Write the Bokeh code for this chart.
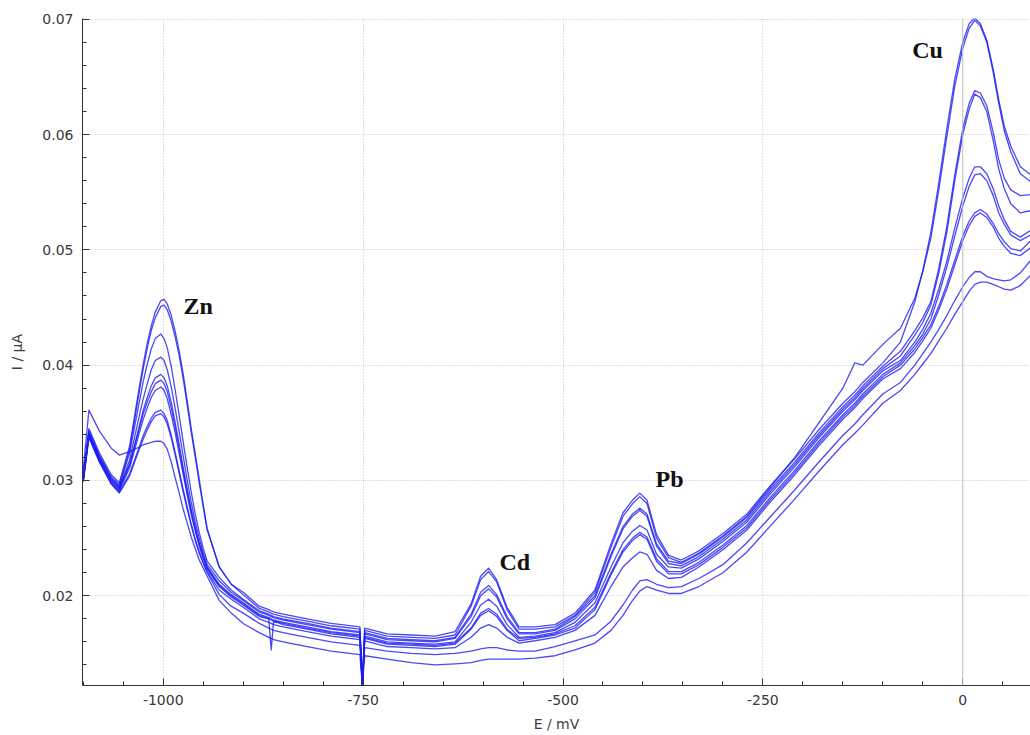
from bokeh.plotting import figure
from bokeh.models import Range1d, FixedTicker, PrintfTickFormatter, Span, Label
from bokeh.embed import file_html
from bokeh.resources import INLINE

# Potential grid (mV)
E = [-1100, -1093, -1080, -1065, -1055, -1042, -1030, -1025, -1020, -1015, -1010, -1003,
     -999, -995, -990, -985, -980, -975, -970, -965, -960, -955, -950, -945, -930, -915, -900,
     -880, -868, -865, -862, -850, -820, -790, -754, -751, -748, -720, -690, -660,
     -635, -615, -603, -593, -583, -570, -555, -535, -510,
     -485, -460, -440, -425, -413, -404, -395, -383, -368, -352, -330,
     -300, -270, -240, -210, -180, -150, -135, -125, -100, -78,
     -60, -50, -40, -30, -20, -10, 0, 8, 15, 22, 30, 38, 45, 52, 60, 72, 85]

curve_a = [0.0305, 0.0345, 0.0324, 0.0305, 0.0298, 0.0330, 0.0381, 0.0401, 0.0419, 0.0434, 0.0446, 0.0456,
           0.0457, 0.0453, 0.0443, 0.0429, 0.0412, 0.0392, 0.0369, 0.0345, 0.0323, 0.0301, 0.0279, 0.0258, 0.0225, 0.0210, 0.0203,
           0.0191, 0.0188, 0.0187, 0.0186, 0.0184, 0.0180, 0.0176, 0.0173, 0.0124, 0.0172, 0.0167, 0.0166, 0.0165,
           0.0169, 0.0193, 0.0217, 0.0224, 0.0214, 0.0190, 0.0173, 0.0173, 0.0175,
           0.0185, 0.0205, 0.0245, 0.0272, 0.0283, 0.0289, 0.0283, 0.0253, 0.0235, 0.0231, 0.0239,
           0.0254, 0.0271, 0.0296, 0.0319, 0.0344, 0.0367, 0.0377, 0.0385, 0.0402, 0.0420,
           0.0455, 0.0482, 0.0515, 0.0558, 0.0605, 0.0648, 0.0680, 0.0696, 0.0701, 0.0696, 0.0682, 0.0657, 0.0630, 0.0607, 0.0590, 0.0572, 0.0565]
curve_b = [0.0303, 0.0343, 0.0322, 0.0303, 0.0296, 0.0327, 0.0377, 0.0397, 0.0415, 0.0430, 0.0441, 0.0451,
           0.0452, 0.0448, 0.0438, 0.0424, 0.0408, 0.0388, 0.0365, 0.0342, 0.0320, 0.0298, 0.0277, 0.0257, 0.0225, 0.0210, 0.0201,
           0.0189, 0.0186, 0.0185, 0.0184, 0.0182, 0.0178, 0.0174, 0.0171, 0.0122, 0.0170, 0.0165, 0.0164, 0.0163,
           0.0166, 0.0191, 0.0214, 0.0221, 0.0212, 0.0188, 0.0171, 0.0171, 0.0173,
           0.0183, 0.0203, 0.0242, 0.0269, 0.0280, 0.0286, 0.0280, 0.0250, 0.0233, 0.0229, 0.0237,
           0.0252, 0.0269, 0.0295, 0.0320, 0.0350, 0.0380, 0.0402, 0.0400, 0.0418, 0.0432,
           0.0458, 0.0481, 0.0510, 0.0552, 0.0598, 0.0642, 0.0675, 0.0692, 0.0699, 0.0694, 0.0680, 0.0654, 0.0627, 0.0603, 0.0585, 0.0566, 0.0559]
curve_c = [0.0302, 0.0342, 0.0321, 0.0302, 0.0295, 0.0324, 0.0368, 0.0386, 0.0401, 0.0414, 0.0423, 0.0427,
           0.0423, 0.0415, 0.0399, 0.0378, 0.0356, 0.0333, 0.0311, 0.0290, 0.0271, 0.0255, 0.0241, 0.0230, 0.0216, 0.0205, 0.0197,
           0.0187, 0.0184, 0.0183, 0.0182, 0.0180, 0.0176, 0.0172, 0.0169, 0.0120, 0.0168, 0.0163, 0.0162, 0.0161,
           0.0164, 0.0184, 0.0203, 0.0209, 0.0201, 0.0182, 0.0168, 0.0168, 0.0171,
           0.0182, 0.0200, 0.0236, 0.0260, 0.0271, 0.0276, 0.0271, 0.0245, 0.0230, 0.0228, 0.0236,
           0.0251, 0.0268, 0.0293, 0.0316, 0.0341, 0.0364, 0.0374, 0.0382, 0.0399, 0.0412,
           0.0430, 0.0441, 0.0455, 0.0484, 0.0520, 0.0565, 0.0605, 0.0627, 0.0638, 0.0636, 0.0625, 0.0602, 0.0578, 0.0562, 0.0552, 0.0547, 0.0548]
curve_d = [0.0300, 0.0340, 0.0319, 0.0300, 0.0293, 0.0318, 0.0356, 0.0371, 0.0384, 0.0396, 0.0404, 0.0407,
           0.0404, 0.0396, 0.0381, 0.0362, 0.0342, 0.0321, 0.0300, 0.0281, 0.0264, 0.0250, 0.0237, 0.0227, 0.0213, 0.0203, 0.0196,
           0.0186, 0.0183, 0.0182, 0.0181, 0.0179, 0.0175, 0.0171, 0.0168, 0.0126, 0.0167, 0.0162, 0.0161, 0.0160,
           0.0163, 0.0182, 0.0200, 0.0206, 0.0199, 0.0180, 0.0167, 0.0167, 0.0170,
           0.0180, 0.0198, 0.0234, 0.0258, 0.0269, 0.0274, 0.0269, 0.0243, 0.0228, 0.0226, 0.0234,
           0.0249, 0.0266, 0.0291, 0.0314, 0.0339, 0.0362, 0.0372, 0.0380, 0.0397, 0.0408,
           0.0426, 0.0437, 0.0452, 0.0480, 0.0515, 0.0560, 0.0600, 0.0622, 0.0635, 0.0632, 0.0620, 0.0595, 0.0570, 0.0553, 0.0540, 0.0532, 0.0534]
curve_e = [0.0300, 0.0340, 0.0318, 0.0299, 0.0292, 0.0314, 0.0347, 0.0361, 0.0372, 0.0382, 0.0389, 0.0392,
           0.0389, 0.0382, 0.0368, 0.0350, 0.0331, 0.0311, 0.0292, 0.0275, 0.0259, 0.0246, 0.0235, 0.0225, 0.0210, 0.0201, 0.0194,
           0.0184, 0.0181, 0.0180, 0.0179, 0.0177, 0.0173, 0.0169, 0.0166, 0.0121, 0.0165, 0.0160, 0.0159, 0.0158,
           0.0160, 0.0177, 0.0192, 0.0197, 0.0191, 0.0175, 0.0164, 0.0165, 0.0168,
           0.0177, 0.0194, 0.0225, 0.0246, 0.0256, 0.0261, 0.0257, 0.0236, 0.0225, 0.0224, 0.0232,
           0.0247, 0.0264, 0.0289, 0.0312, 0.0337, 0.0360, 0.0370, 0.0378, 0.0395, 0.0404,
           0.0420, 0.0431, 0.0445, 0.0466, 0.0490, 0.0519, 0.0545, 0.0562, 0.0572, 0.0572, 0.0566, 0.0553, 0.0538, 0.0526, 0.0516, 0.0511, 0.0517]
curve_f = [0.0301, 0.0341, 0.0320, 0.0301, 0.0294, 0.0314, 0.0345, 0.0358, 0.0368, 0.0377, 0.0384, 0.0387,
           0.0384, 0.0377, 0.0363, 0.0346, 0.0327, 0.0308, 0.0290, 0.0273, 0.0258, 0.0245, 0.0234, 0.0224, 0.0209, 0.0200, 0.0193,
           0.0183, 0.0180, 0.0179, 0.0178, 0.0176, 0.0172, 0.0168, 0.0165, 0.0119, 0.0164, 0.0159, 0.0158, 0.0157,
           0.0159, 0.0172, 0.0185, 0.0189, 0.0184, 0.0171, 0.0163, 0.0164, 0.0167,
           0.0174, 0.0190, 0.0220, 0.0240, 0.0250, 0.0255, 0.0251, 0.0232, 0.0221, 0.0221, 0.0229,
           0.0244, 0.0261, 0.0286, 0.0309, 0.0334, 0.0357, 0.0367, 0.0375, 0.0392, 0.0402,
           0.0417, 0.0427, 0.0440, 0.0461, 0.0485, 0.0512, 0.0538, 0.0555, 0.0565, 0.0566, 0.0560, 0.0547, 0.0532, 0.0522, 0.0513, 0.0508, 0.0513]
curve_g = [0.0300, 0.0338, 0.0317, 0.0298, 0.0291, 0.0311, 0.0341, 0.0353, 0.0363, 0.0372, 0.0378, 0.0381,
           0.0378, 0.0371, 0.0357, 0.0341, 0.0323, 0.0305, 0.0287, 0.0270, 0.0256, 0.0243, 0.0232, 0.0223, 0.0208, 0.0199, 0.0192,
           0.0182, 0.0180, 0.0153, 0.0178, 0.0175, 0.0171, 0.0167, 0.0164, 0.0123, 0.0163, 0.0158, 0.0157, 0.0156,
           0.0158, 0.0171, 0.0183, 0.0187, 0.0182, 0.0170, 0.0161, 0.0163, 0.0166,
           0.0172, 0.0188, 0.0218, 0.0238, 0.0248, 0.0253, 0.0249, 0.0230, 0.0219, 0.0219, 0.0227,
           0.0242, 0.0259, 0.0284, 0.0307, 0.0332, 0.0355, 0.0365, 0.0373, 0.0390, 0.0400,
           0.0414, 0.0424, 0.0435, 0.0451, 0.0470, 0.0491, 0.0512, 0.0525, 0.0532, 0.0535, 0.0531, 0.0523, 0.0514, 0.0507, 0.0501, 0.0499, 0.0508]
curve_h = [0.0299, 0.0337, 0.0316, 0.0297, 0.0290, 0.0306, 0.0329, 0.0339, 0.0347, 0.0354, 0.0359, 0.0361,
           0.0358, 0.0352, 0.0339, 0.0324, 0.0308, 0.0292, 0.0277, 0.0262, 0.0249, 0.0238, 0.0229, 0.0221, 0.0205, 0.0197, 0.0190,
           0.0180, 0.0177, 0.0176, 0.0175, 0.0173, 0.0169, 0.0165, 0.0162, 0.0125, 0.0161, 0.0156, 0.0155, 0.0154,
           0.0155, 0.0164, 0.0172, 0.0175, 0.0172, 0.0164, 0.0159, 0.0161, 0.0164,
           0.0170, 0.0183, 0.0208, 0.0225, 0.0233, 0.0238, 0.0236, 0.0222, 0.0215, 0.0216, 0.0225,
           0.0240, 0.0257, 0.0282, 0.0305, 0.0330, 0.0353, 0.0363, 0.0371, 0.0388, 0.0397,
           0.0411, 0.0421, 0.0432, 0.0448, 0.0466, 0.0487, 0.0508, 0.0521, 0.0529, 0.0532, 0.0528, 0.0520, 0.0510, 0.0503, 0.0497, 0.0495, 0.0502]
curve_i = [0.0300, 0.0339, 0.0317, 0.0297, 0.0289, 0.0304, 0.0327, 0.0336, 0.0344, 0.0351, 0.0356, 0.0358,
           0.0355, 0.0349, 0.0337, 0.0322, 0.0306, 0.0290, 0.0275, 0.0261, 0.0248, 0.0237, 0.0228, 0.0220, 0.0201, 0.0191, 0.0185,
           0.0176, 0.0172, 0.0171, 0.0170, 0.0168, 0.0164, 0.0160, 0.0157, 0.0127, 0.0155, 0.0152, 0.0150, 0.0149,
           0.0150, 0.0152, 0.0154, 0.0155, 0.0155, 0.0153, 0.0152, 0.0152, 0.0156,
           0.0161, 0.0166, 0.0178, 0.0192, 0.0205, 0.0213, 0.0214, 0.0210, 0.0207, 0.0208, 0.0215,
           0.0227, 0.0246, 0.0269, 0.0292, 0.0316, 0.0339, 0.0349, 0.0357, 0.0375, 0.0385,
           0.0400, 0.0410, 0.0420, 0.0431, 0.0443, 0.0456, 0.0468, 0.0476, 0.0481, 0.0481, 0.0477, 0.0475, 0.0474, 0.0473, 0.0474, 0.0480, 0.0491]
curve_j = [0.0310, 0.0361, 0.0343, 0.0328, 0.0322, 0.0325, 0.0329, 0.0331, 0.0332, 0.0333, 0.0334, 0.0334,
           0.0332, 0.0327, 0.0316, 0.0302, 0.0289, 0.0275, 0.0263, 0.0251, 0.0241, 0.0231, 0.0224, 0.0217, 0.0196, 0.0185, 0.0176,
           0.0168, 0.0164, 0.0163, 0.0162, 0.0160, 0.0156, 0.0152, 0.0149, 0.0122, 0.0148, 0.0145, 0.0142, 0.0140,
           0.0141, 0.0142, 0.0144, 0.0145, 0.0145, 0.0145, 0.0145, 0.0146, 0.0148,
           0.0153, 0.0159, 0.0170, 0.0183, 0.0196, 0.0204, 0.0208, 0.0205, 0.0202, 0.0202, 0.0208,
           0.0220, 0.0238, 0.0261, 0.0284, 0.0308, 0.0331, 0.0341, 0.0348, 0.0367, 0.0378,
           0.0392, 0.0401, 0.0410, 0.0421, 0.0432, 0.0444, 0.0455, 0.0464, 0.0470, 0.0472, 0.0472, 0.0470, 0.0468, 0.0466, 0.0465, 0.0469, 0.0478]

curves = [curve_a, curve_b, curve_c, curve_d, curve_e, curve_f, curve_g, curve_h, curve_i, curve_j]

x_ticks = [-1000, -750, -500, -250, 0]
x_minor = list(range(-1100, 100, 50))
y_ticks = [0.02, 0.03, 0.04, 0.05, 0.06, 0.07]
y_minor = [0.012 + 0.002 * k for k in range(30)]

peak_labels = ["Zn", "Cd", "Pb", "Cu"]
label_x = [-974.6, -579.4, -384.3, -63.3]
label_y = [0.0451, 0.0229, 0.0301, 0.0673]

p = figure(width=1030, height=735, output_backend="svg", toolbar_location=None,
           x_range=Range1d(-1101, 84.7), y_range=Range1d(0.01222, 0.07006),
           min_border_left=82, min_border_right=0, min_border_top=18, min_border_bottom=50)
p.outline_line_color = None
p.background_fill_color = "white"
p.border_fill_color = "white"

for c in curves:
    p.line(E, c, line_color="#1c1cf2", line_width=1.3, line_alpha=0.8, line_join="round")

p.add_layout(Span(location=0, dimension="height", line_color="#c4c4c4", line_width=1))

p.xaxis.ticker = FixedTicker(ticks=x_ticks, minor_ticks=x_minor)
p.yaxis.ticker = FixedTicker(ticks=y_ticks, minor_ticks=y_minor)
p.xaxis.formatter = PrintfTickFormatter(format="%d")
p.yaxis.formatter = PrintfTickFormatter(format="%.2f")

for ax in (p.xaxis[0], p.yaxis[0]):
    ax.major_tick_in = 7
    ax.major_tick_out = 0
    ax.minor_tick_in = 4
    ax.minor_tick_out = 0
    ax.axis_line_color = "#333333"
    ax.major_tick_line_color = "#333333"
    ax.minor_tick_line_color = "#333333"
    ax.major_label_text_font = "DejaVu Sans"
    ax.major_label_text_font_size = "14px"
    ax.major_label_text_color = "#383838"
    ax.axis_label_text_font = "DejaVu Sans"
    ax.axis_label_text_font_size = "14px"
    ax.axis_label_text_font_style = "normal"
    ax.axis_label_text_color = "#404040"
    ax.major_label_standoff = 9

p.xaxis.axis_label = "E / mV"
p.yaxis.axis_label = "I / μA"
p.xaxis.axis_label_standoff = 8
p.yaxis.axis_label_standoff = 14

p.xgrid.grid_line_color = "#c0c0c0"
p.ygrid.grid_line_color = "#c0c0c0"
p.xgrid.grid_line_dash = "1 2"
p.ygrid.grid_line_dash = "1 2"

for t, lx, ly in zip(peak_labels, label_x, label_y):
    p.add_layout(Label(x=lx, y=ly, text=t, text_font="Liberation Serif", text_font_style="bold",
                       text_font_size="24px", text_color="#111111", text_baseline="alphabetic",
                       text_align="left"))

open("out.html", "w").write(file_html(p, INLINE))
